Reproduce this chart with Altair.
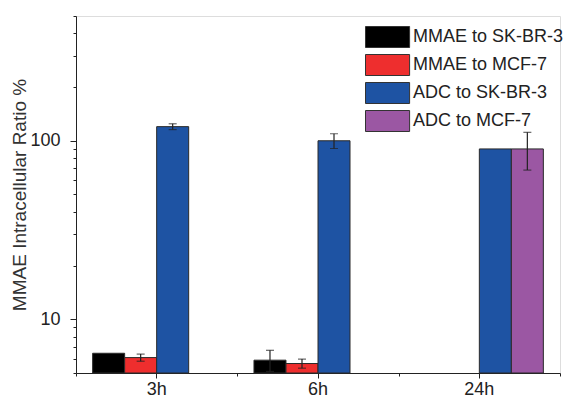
import altair as alt
import pandas as pd

times = ["3h", "6h", "24h"]
series = ["MMAE to SK-BR-3", "MMAE to MCF-7", "ADC to SK-BR-3", "ADC to MCF-7"]
colors = ["#000000", "#EE2E2E", "#1E53A3", "#9B57A3"]

mmae_skbr3 = [6.45, 5.9, None]
mmae_mcf7 = [6.1, 5.65, None]
adc_skbr3 = [120, 100, 90]
adc_mcf7 = [None, None, 90]

err_mmae_skbr3 = [None, 0.8, None]
err_mmae_mcf7 = [0.28, 0.33, None]
err_adc_skbr3 = [4.5, 9.5, None]
err_adc_mcf7 = [None, None, 21.5]

y_domain = [5, 500]
y_major = [10, 100]
y_minor = [5, 6, 7, 8, 9, 20, 30, 40, 50, 60, 70, 80, 90, 200, 300, 400, 500]

vals = [mmae_skbr3, mmae_mcf7, adc_skbr3, adc_mcf7]
errs = [err_mmae_skbr3, err_mmae_mcf7, err_adc_skbr3, err_adc_mcf7]
rows = []
for s, v, e in zip(series, vals, errs):
    for t, vv, ee in zip(times, v, e):
        rows.append({"time": t, "series": s, "value": vv, "err": ee})
df = pd.DataFrame(rows)

FONT = "Liberation Sans"
INK = "#222222"

xscale = alt.Scale(domain=times, paddingInner=0, paddingOuter=0)
oscale = alt.Scale(domain=series, paddingInner=0, paddingOuter=0.52)
yscale = alt.Scale(type="log", domain=y_domain, nice=False)

base = alt.Chart(df)

bars = base.transform_filter("isValid(datum.value)").mark_bar(
    stroke="#2a2a2a", strokeWidth=1
).encode(
    x=alt.X("time:N", sort=times, scale=xscale,
            axis=alt.Axis(title=None, orient="bottom", labelFontSize=18, labelFont=FONT,
                          labelColor=INK, labelAngle=0, tickSize=5, labelPadding=2,
                          domainColor=INK, tickColor=INK, grid=False)),
    xOffset=alt.XOffset("series:N", sort=series, scale=oscale),
    y=alt.Y("value:Q", scale=yscale,
            axis=alt.Axis(title="MMAE Intracellular Ratio %", orient="left", values=y_major,
                          format="d", tickSize=6, labelPadding=10, titlePadding=0,
                          labelFontSize=18, labelFont=FONT, labelColor=INK,
                          titleFontSize=19, titleFont=FONT, titleFontWeight="normal",
                          titleColor="#333333", domainColor=INK, tickColor=INK, grid=False)),
    y2=alt.datum(y_domain[0]),
    color=alt.Color("series:N", sort=series, scale=alt.Scale(domain=series, range=colors),
                    legend=alt.Legend(title=None, orient="none", legendX=289, legendY=10,
                                      symbolType="M-1,-1H3.2V1H-1Z", symbolSize=441,
                                      symbolStrokeColor="#333333", symbolStrokeWidth=1,
                                      labelFontSize=18, labelFont=FONT, labelColor=INK,
                                      labelOffset=26, rowPadding=2, padding=0,
                                      labelLimit=300)),
)

errbase = base.transform_filter("isValid(datum.value) && isValid(datum.err)").transform_calculate(
    lo="datum.value - datum.err", hi="datum.value + datum.err"
)

rules = errbase.mark_rule(color=INK, strokeWidth=1.2).encode(
    x=alt.X("time:N", sort=times, scale=xscale,
            axis=alt.Axis(title=None, orient="bottom", labels=False, domain=False,
                          tickSize=3, tickBand="extent", tickColor=INK, grid=False)),
    xOffset=alt.XOffset("series:N", sort=series, scale=oscale),
    y=alt.Y("lo:Q", scale=yscale,
            axis=alt.Axis(title=None, orient="left", labels=False, domain=False,
                          values=y_minor, tickSize=3, tickColor=INK, grid=False)),
    y2="hi:Q",
)

cap_lo = errbase.mark_tick(color=INK, size=8, thickness=1.2).encode(
    x=alt.X("time:N", sort=times, scale=xscale, axis=None),
    xOffset=alt.XOffset("series:N", sort=series, scale=oscale),
    y=alt.Y("lo:Q", scale=yscale, axis=None),
)
cap_hi = errbase.mark_tick(color=INK, size=8, thickness=1.2).encode(
    x=alt.X("time:N", sort=times, scale=xscale, axis=None),
    xOffset=alt.XOffset("series:N", sort=series, scale=oscale),
    y=alt.Y("hi:Q", scale=yscale, axis=None),
)

chart = alt.layer(bars, rules, cap_lo, cap_hi).resolve_axis(
    x="independent", y="independent"
).properties(
    width=484, height=357,
    autosize=alt.AutoSizeParams(type="none"),
    padding={"left": 68, "top": 8, "right": 6, "bottom": 25},
).configure_view(stroke=None).configure(background="white")

chart.save("out.html", embed_options={"renderer": "svg", "actions": False})
